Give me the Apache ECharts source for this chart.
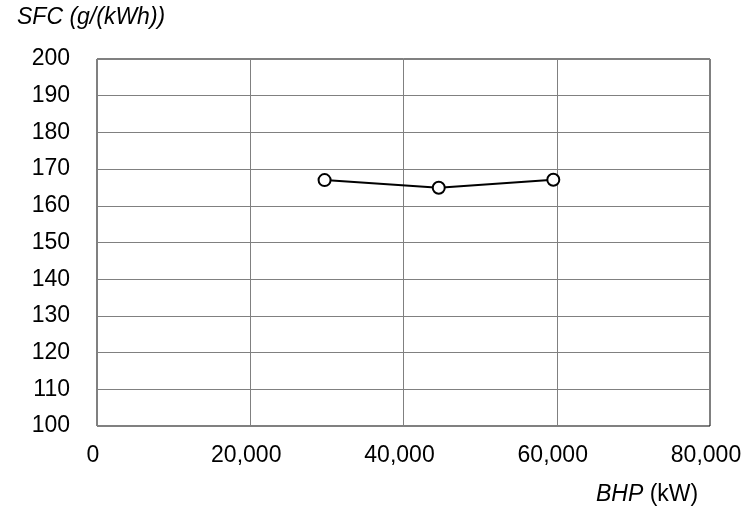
<!DOCTYPE html>
<html><head><meta charset="utf-8">
<script src="https://cdn.jsdelivr.net/npm/echarts@6/dist/echarts.min.js"></script>
<style>html,body{margin:0;padding:0;background:#fff}#c{width:753px;height:511px}</style>
</head><body><div id="c"></div>
<script>
const bhp = [29700, 44600, 59550];
const sfc = [167.0, 164.9, 167.1];
const xTicks = [0, 20000, 40000, 60000, 80000];
const yTicks = [100, 110, 120, 130, 140, 150, 160, 170, 180, 190, 200];
const yTitle = 'SFC (g/(kWh))';
const xTitleItalic = 'BHP';
const xTitleUnit = '(kW)';

const chart = echarts.init(document.getElementById('c'), null, {renderer: 'canvas'});
const font = 'Liberation Sans, Arial, sans-serif';
const fs = 23;
chart.setOption({
  animation: false,
  grid: {left: 97, top: 59, right: 43, bottom: 85, show: true, borderColor: '#000', borderWidth: 1},
  title: [
    {text: yTitle, left: 17, top: 6, padding: 0, textStyle: {fontFamily: font, fontSize: fs, fontStyle: 'italic', fontWeight: 'normal', color: '#000'}}
  ],
  graphic: [{
    type: 'text', left: 596, top: 483,
    style: {
      rich: {
        i: {fontFamily: font, fontSize: fs, fontStyle: 'italic', fill: '#000'},
        n: {fontFamily: font, fontSize: fs, fill: '#000'}
      },
      text: '{i|' + xTitleItalic + '}{n| ' + xTitleUnit + '}'
    }
  }],
  xAxis: {
    type: 'value', min: xTicks[0], max: xTicks[xTicks.length - 1], interval: 20000,
    axisLine: {show: false}, axisTick: {show: false},
    splitLine: {show: true, lineStyle: {color: '#808080', width: 1}},
    axisLabel: {fontFamily: font, fontSize: fs, color: '#000', margin: 18, padding: [0, 8, 0, 0],
      formatter: v => v.toLocaleString('en-US')}
  },
  yAxis: {
    type: 'value', min: yTicks[0], max: yTicks[yTicks.length - 1], interval: 10,
    axisLine: {show: false}, axisTick: {show: false},
    splitLine: {show: true, lineStyle: {color: '#808080', width: 1}},
    axisLabel: {fontFamily: font, fontSize: fs, color: '#000', margin: 27}
  },
  series: [{
    type: 'line',
    data: bhp.map((x, i) => [x, sfc[i]]),
    symbol: 'circle', symbolSize: 12,
    itemStyle: {color: '#fff', borderColor: '#000', borderWidth: 2},
    lineStyle: {color: '#000', width: 2},
    z: 5
  }]
});
</script></body></html>
